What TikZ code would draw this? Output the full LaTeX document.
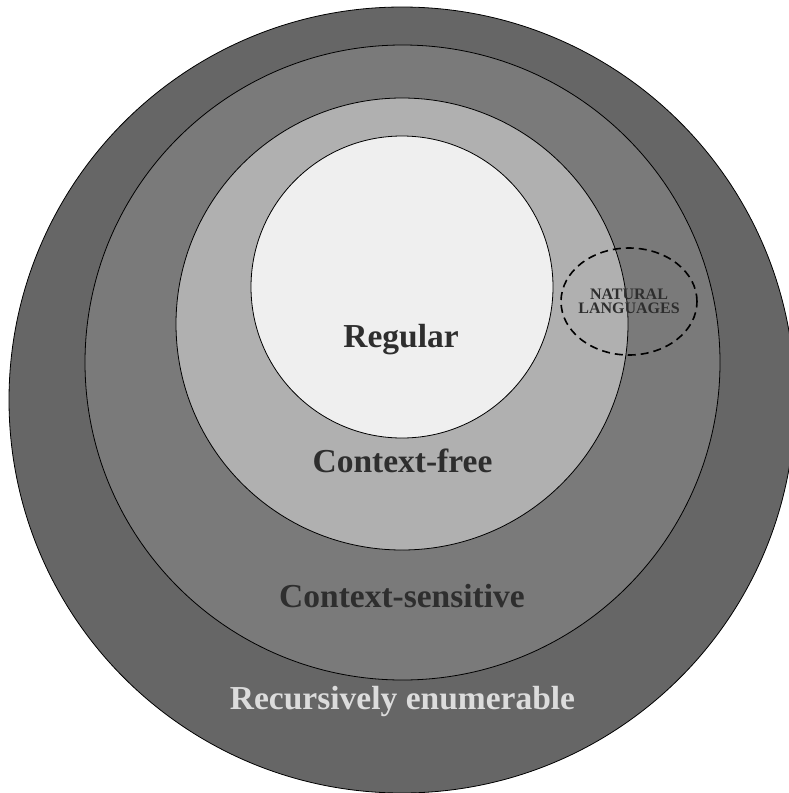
\documentclass[tikz,border=0pt]{standalone}
\usepackage{fontspec}
\setmainfont{Liberation Serif}
\usetikzlibrary{shapes.geometric}

\definecolor{reFill}{HTML}{666666}
\definecolor{csFill}{HTML}{7A7A7A}
\definecolor{cfFill}{HTML}{B0B0B0}
\definecolor{regFill}{HTML}{EFEFEF}
\definecolor{darkText}{HTML}{2E2E2E}
\definecolor{lightText}{HTML}{DCDCDC}

\tikzset{
  ring/.style={circle, draw=black, line width=0.8pt, inner sep=0pt},
  classlabel/.style={font=\fontsize{33.5}{36}\selectfont\bfseries, text=darkText, inner sep=0pt, anchor=base},
  nlregion/.style={ellipse, draw=black, line width=1.6pt, dash pattern=on 8pt off 5pt,
    inner xsep=-6pt, inner ysep=0pt,
    font=\fontsize{16}{14.5}\selectfont\bfseries, text=darkText, align=center}
}

\begin{document}
\begin{tikzpicture}[x=1pt, y=-1pt]
  \useasboundingbox (0,0) rectangle (789,793);
  \clip (0,0) rectangle (789,793);

  % nested language classes
  \node[ring, fill=reFill,  minimum size=786pt] (re)  at (402,400)   {};
  \node[ring, fill=csFill,  minimum size=635pt] (cs)  at (402.5,362.5) {};
  \node[ring, fill=cfFill,  minimum size=452pt] (cf)  at (402,324)   {};
  \node[ring, fill=regFill, minimum size=302pt] (reg) at (402,287)   {};

  % natural languages region with its label
  \node[nlregion, minimum width=136pt, minimum height=107pt] (nl) at (629,301.5) {NATURAL\\LANGUAGES};

  % class labels
  \node[classlabel] (regtext) at (401,347) {Regular};
  \node[classlabel] (cftext)  at (402.5,472) {Context-free};
  \node[classlabel] (cstext)  at (402,607) {Context-sensitive};
  \node[classlabel, text=lightText] (retext) at (402.5,709) {Recursively enumerable};
\end{tikzpicture}
\end{document}
